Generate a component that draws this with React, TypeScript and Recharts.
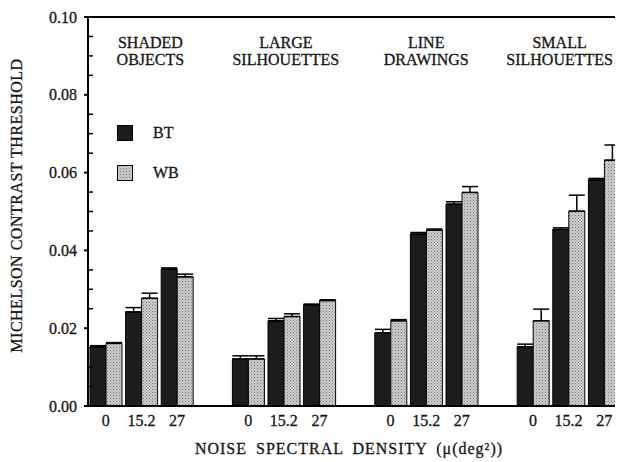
import React from "react";
import {
  Bar,
  BarChart,
  ErrorBar,
  Legend,
  ReferenceDot,
  ReferenceLine,
  XAxis,
  YAxis,
} from "recharts";

const FONT = "'Liberation Serif', 'Times New Roman', serif";
const INK = "#151515";

// stimulus groups, each measured at three noise levels
const groupNames = [
  ["SHADED", "OBJECTS"],
  ["LARGE", "SILHOUETTES"],
  ["LINE", "DRAWINGS"],
  ["SMALL", "SILHOUETTES"],
];
const noiseLevels = ["0", "15.2", "27"];

// Michelson contrast thresholds, 3 noise levels per group
const btValues = [0.0152, 0.0242, 0.0352, 0.0121, 0.0219, 0.026, 0.0188, 0.0442, 0.0519, 0.0152, 0.0454, 0.0581];
const wbValues = [0.0161, 0.0277, 0.0332, 0.0121, 0.023, 0.0271, 0.0219, 0.0452, 0.0549, 0.0219, 0.0501, 0.0632];
// upper error bars (one-sided)
const btErr = [0.0003, 0.0011, 0.0003, 0.0008, 0.0006, 0.0002, 0.0009, 0.0004, 0.0006, 0.0007, 0.0004, 0.0004];
const wbErr = [0.0002, 0.0013, 0.0007, 0.0008, 0.0007, 0.0002, 0.0003, 0.0003, 0.0015, 0.003, 0.0041, 0.0039];

const yTicks = [
  0, 0.005, 0.01, 0.015, 0.02, 0.025, 0.03, 0.035, 0.04, 0.045, 0.05,
  0.055, 0.06, 0.065, 0.07, 0.075, 0.08, 0.085, 0.09, 0.095, 0.1,
];

// label nudges for the outer groups (the last one is cut by the frame)
const labelShift = [9, 2, 0, -9];

// scanned text looks heavier than a plain render
const textInk = { fill: INK, stroke: INK, strokeWidth: 0.3 };

type Row = {
  key: string;
  tick: string;
  bt: number | null;
  wb: number | null;
  btE?: number[];
  wbE?: number[];
};

const rows: Row[] = [];
groupNames.forEach((_, g) => {
  noiseLevels.forEach((n, i) => {
    const k = g * 3 + i;
    rows.push({
      key: `${g}-${i}`,
      tick: n,
      bt: btValues[k],
      wb: wbValues[k],
      btE: [0, btErr[k]],
      wbE: [0, wbErr[k]],
    });
  });
  if (g < groupNames.length - 1) rows.push({ key: `gap${g}`, tick: "", bt: null, wb: null });
});

const isMajor = (v: number) => Math.abs(v * 50 - Math.round(v * 50)) < 1e-6;

function LeftTick({ x, y, payload }: any) {
  const v = payload.value as number;
  const major = isMajor(v);
  return (
    <g>
      {major ? (
        <line x1={x - 4} x2={x} y1={y} y2={y} stroke="#000" strokeWidth={2} />
      ) : (
        <line x1={x} x2={x + 5} y1={y} y2={y} stroke="#000" strokeWidth={1.5} />
      )}
      {major && (
        <text x={x - 11} y={y} dy="0.35em" textAnchor="end" fontFamily={FONT} fontSize={16} {...textInk}>
          {v.toFixed(2)}
        </text>
      )}
    </g>
  );
}

function RightTick({ x, y, payload }: any) {
  const major = isMajor(payload.value);
  return <line x1={x - (major ? 9 : 6)} x2={x} y1={y} y2={y} stroke="#000" strokeWidth={1.5} />;
}

function BottomTick({ x, y, payload, index }: any) {
  return (
    <text x={x} y={y} dy="0.71em" textAnchor="middle" fontFamily={FONT} fontSize={16} {...textInk}>
      {rows[index]?.tick ?? ""}
    </text>
  );
}

function XTitle({ viewBox }: any) {
  const { x, y, width } = viewBox;
  return (
    <text
      x={x + width / 2 - 6}
      y={y + 48}
      textAnchor="middle"
      fontFamily={FONT}
      fontSize={16}
      letterSpacing={1}
      wordSpacing={4}
      {...textInk}
    >
      NOISE SPECTRAL DENSITY (μ(deg²))
    </text>
  );
}

function YTitle({ viewBox }: any) {
  const { y, height } = viewBox;
  const cx = 14;
  const cy = y + height / 2 - 6;
  return (
    <text
      x={cx}
      y={cy}
      transform={`rotate(-90 ${cx} ${cy})`}
      textAnchor="middle"
      fontFamily={FONT}
      fontSize={16}
      letterSpacing={0.5}
      {...textInk}
    >
      MICHELSON CONTRAST THRESHOLD
    </text>
  );
}

function LegendBox() {
  const item = (name: string, swatch: React.ReactNode) => (
    <div style={{ display: "flex", alignItems: "center", height: 16, marginBottom: 24 }}>
      <svg width={16} height={16} style={{ display: "block" }}>
        {swatch}
      </svg>
      <span
        style={{
          marginLeft: 20,
          fontFamily: FONT,
          fontSize: 16,
          color: INK,
          WebkitTextStroke: "0.3px " + INK,
        }}
      >
        {name}
      </span>
    </div>
  );
  return (
    <div>
      {item("BT", <rect x={0.5} y={0.5} width={15} height={15} fill="#1c1c1c" stroke="#000" />)}
      {item("WB", <rect x={0.5} y={0.5} width={15} height={15} fill="url(#stipple)" stroke="#000" />)}
    </div>
  );
}

export default function App() {
  return (
    <BarChart
      width={615}
      height={454}
      data={rows}
      margin={{ top: 9, right: 0, left: 0, bottom: 0 }}
      barCategoryGap={2}
      barGap={0}
    >
      <defs>
        <pattern id="stipple" width={3} height={3} patternUnits="userSpaceOnUse">
          <rect width={3} height={3} fill="#cdcdcd" />
          <rect x={0} y={0} width={1} height={1} fill="#767676" />
          <rect x={1.5} y={1.5} width={1} height={1} fill="#959595" />
        </pattern>
      </defs>
      <XAxis
        dataKey="key"
        interval={0}
        height={56}
        tickLine={false}
        tickSize={0}
        tickMargin={9}
        axisLine={{ stroke: "#000", strokeWidth: 2 }}
        tick={<BottomTick />}
        label={<XTitle />}
      />
      <YAxis
        yAxisId="l"
        width={80}
        domain={[0, 0.1]}
        ticks={yTicks}
        interval={0}
        tickSize={0}
        tickMargin={0}
        tickLine={false}
        axisLine={{ stroke: "#000", strokeWidth: 2 }}
        tick={<LeftTick />}
        label={<YTitle />}
      />
      <YAxis
        yAxisId="r"
        orientation="right"
        width={1}
        domain={[0, 0.1]}
        ticks={yTicks}
        interval={0}
        tickSize={0}
        tickMargin={0}
        tickLine={false}
        axisLine={{ stroke: "#000", strokeWidth: 1.5 }}
        tick={<RightTick />}
      />
      <ReferenceLine yAxisId="l" y={0.1} stroke="#000" strokeWidth={2} />
      {groupNames.map((lines, g) => (
        <ReferenceDot
          key={g}
          yAxisId="l"
          x={`${g}-1`}
          y={0.09}
          r={0}
          shape={(p: any) => (
            <text
              x={p.cx + labelShift[g]}
              y={p.cy}
              textAnchor="middle"
              fontFamily={FONT}
              fontSize={16}
              {...textInk}
            >
              <tspan x={p.cx + labelShift[g]} dy={-7.5}>
                {lines[0]}
              </tspan>
              <tspan x={p.cx + labelShift[g]} dy={17}>
                {lines[1]}
              </tspan>
            </text>
          )}
        />
      ))}
      <Legend
        layout="vertical"
        align="center"
        verticalAlign="middle"
        content={<LegendBox />}
        wrapperStyle={{ left: 109, top: 117, width: "auto", height: "auto" }}
      />
      <Bar yAxisId="l" dataKey="bt" name="BT" fill="#1c1c1c" stroke="#000" strokeWidth={1} isAnimationActive={false}>
        <ErrorBar dataKey="btE" direction="y" width={8} stroke="#000" strokeWidth={1.5} isAnimationActive={false} />
      </Bar>
      <Bar yAxisId="l" dataKey="wb" name="WB" fill="url(#stipple)" stroke="#000" strokeWidth={1} isAnimationActive={false}>
        <ErrorBar dataKey="wbE" direction="y" width={8} stroke="#000" strokeWidth={1.5} isAnimationActive={false} />
      </Bar>
    </BarChart>
  );
}
